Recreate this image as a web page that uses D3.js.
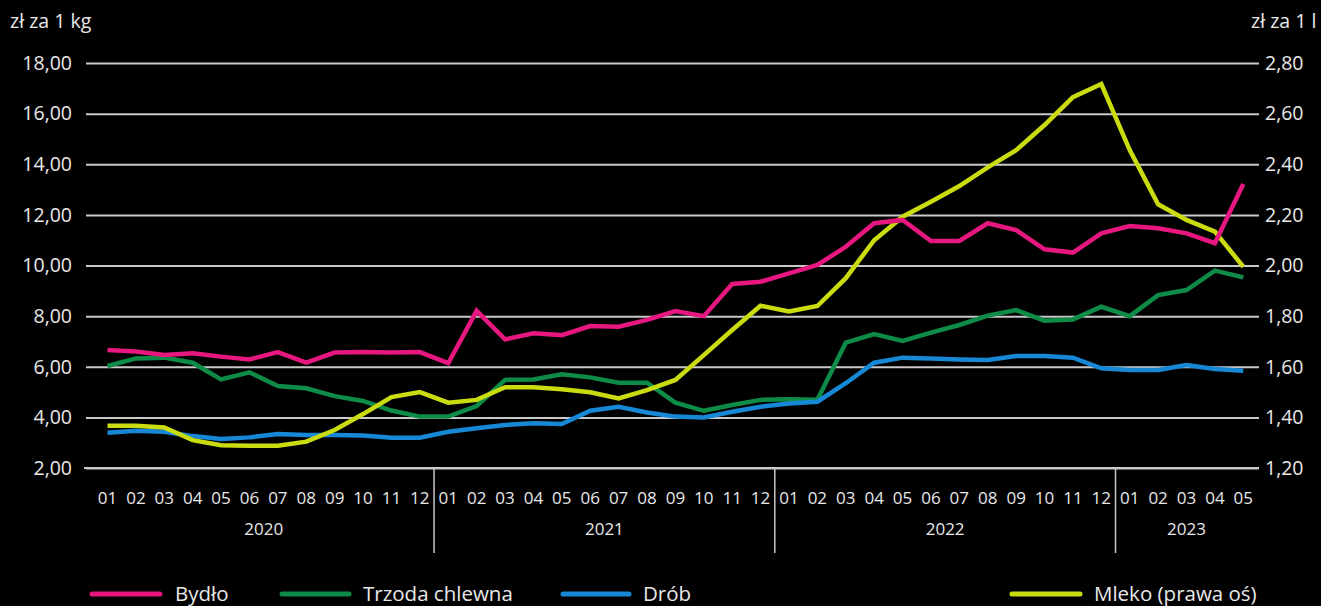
<!DOCTYPE html>
<html>
<head>
<meta charset="utf-8">
<script src="https://cdn.jsdelivr.net/npm/d3@7"></script>
<style>
  html, body { margin: 0; padding: 0; background: #000; }
  svg { display: block; }
  text { font-family: "Open Sans", "Noto Sans", sans-serif; fill: #e8e8e8; }
</style>
</head>
<body>
<svg id="chart" width="1321" height="606"></svg>
<script>
// ---- DATA ----
const periods = [
  "2020-01","2020-02","2020-03","2020-04","2020-05","2020-06","2020-07","2020-08","2020-09","2020-10","2020-11","2020-12",
  "2021-01","2021-02","2021-03","2021-04","2021-05","2021-06","2021-07","2021-08","2021-09","2021-10","2021-11","2021-12",
  "2022-01","2022-02","2022-03","2022-04","2022-05","2022-06","2022-07","2022-08","2022-09","2022-10","2022-11","2022-12",
  "2023-01","2023-02","2023-03","2023-04","2023-05"
];
const years = ["2020", "2021", "2022", "2023"];

const bydlo = [6.66,6.60,6.46,6.53,6.40,6.29,6.58,6.16,6.56,6.58,6.56,6.58,
               6.14,8.21,7.08,7.32,7.25,7.61,7.58,7.85,8.20,8.00,9.27,9.36,
               9.69,10.02,10.74,11.67,11.80,10.97,10.97,11.67,11.40,10.64,10.51,11.27,
               11.56,11.47,11.27,10.88,13.22];
const trzoda = [6.03,6.33,6.36,6.16,5.50,5.78,5.24,5.15,4.84,4.65,4.27,4.03,
                4.03,4.45,5.48,5.50,5.70,5.58,5.37,5.37,4.58,4.26,4.49,4.69,
                4.72,4.70,6.95,7.29,7.02,7.35,7.65,8.02,8.24,7.82,7.87,8.37,
                8.00,8.83,9.03,9.80,9.53];
const drob = [3.39,3.47,3.43,3.26,3.15,3.21,3.34,3.30,3.30,3.28,3.20,3.20,
              3.43,3.57,3.70,3.77,3.74,4.26,4.42,4.19,4.03,4.00,4.22,4.42,
              4.55,4.62,5.35,6.16,6.36,6.33,6.29,6.27,6.42,6.42,6.36,5.94,
              5.87,5.87,6.07,5.91,5.84];
const mleko = [1.367,1.367,1.360,1.310,1.290,1.288,1.288,1.304,1.350,1.413,1.480,1.500,
               1.458,1.469,1.519,1.519,1.511,1.499,1.475,1.508,1.548,1.646,1.745,1.841,
               1.818,1.840,1.950,2.100,2.193,2.252,2.314,2.388,2.456,2.555,2.665,2.717,
               2.456,2.242,2.180,2.134,1.995];

const leftTicks = [2,4,6,8,10,12,14,16,18];
const rightTicks = [1.2,1.4,1.6,1.8,2.0,2.2,2.4,2.6,2.8];

const seriesNames = ["Bydło", "Trzoda chlewna", "Drób", "Mleko (prawa oś)"];
const seriesColors = ["#e6177f", "#0e8c47", "#1788d6", "#cadc10"];

// ---- LAYOUT ----
const svg = d3.select("#chart");
const gridLeft = 86, gridRight = 1259;
const yTop = 63, yBottom = 468;

const x = d3.scaleBand().domain(periods).range([93.3, 1257.5]).padding(0);
const xc = p => x(p) + x.bandwidth() / 2;
const yL = d3.scaleLinear().domain([2, 18]).range([yBottom, yTop]);
const yR = d3.scaleLinear().domain([1.2, 2.8]).range([yBottom, yTop]);

const pl = d3.formatLocale({decimal: ",", thousands: " ", grouping: [3], currency: ["", " zł"]});
const fmt = pl.format(".2f");

// Left axis with gridlines
const gL = svg.append("g").attr("transform", `translate(${gridRight},0)`)
  .call(d3.axisLeft(yL).tickValues(leftTicks).tickSize(gridRight - gridLeft).tickPadding(14).tickFormat(fmt));
gL.select(".domain").remove();
gL.selectAll(".tick line").attr("stroke", "#c9c9c9").attr("stroke-width", 2);
gL.selectAll(".tick text").attr("fill", "#e8e8e8").style("font-size", "19.5px")
  .style("font-family", '"Open Sans", sans-serif');

// Right axis
const gR = svg.append("g").attr("transform", `translate(${gridRight},0)`)
  .call(d3.axisRight(yR).tickValues(rightTicks).tickSize(0).tickPadding(6).tickFormat(fmt));
gR.select(".domain").remove();
gR.selectAll(".tick text").attr("fill", "#e8e8e8").style("font-size", "19.5px")
  .style("font-family", '"Open Sans", sans-serif');

// Axis titles
svg.append("text").attr("x", 10).attr("y", 28).style("font-size", "19.5px").text("zł za 1 kg");
svg.append("text").attr("x", 1251).attr("y", 28).style("font-size", "19.5px").text("zł za 1 l");

// Bottom axis line
svg.append("line").attr("x1", 84).attr("x2", gridRight).attr("y1", yBottom).attr("y2", yBottom)
  .attr("stroke", "#c9c9c9").attr("stroke-width", 2);

// Month labels
svg.append("g").selectAll("text").data(periods).join("text")
  .attr("x", d => xc(d)).attr("y", 504)
  .attr("text-anchor", "middle").style("font-size", "17px")
  .text(d => d.slice(5));

// Year labels & separators
years.forEach((yr, i) => {
  const ps = periods.filter(p => p.startsWith(yr));
  const x0 = x(ps[0]), x1 = x(ps[ps.length - 1]) + x.bandwidth();
  svg.append("text").attr("x", (x0 + x1) / 2).attr("y", 535)
    .attr("text-anchor", "middle").style("font-size", "17px").text(yr);
  if (i > 0) {
    svg.append("line").attr("x1", x0).attr("x2", x0).attr("y1", yBottom).attr("y2", 553)
      .attr("stroke", "#c9c9c9").attr("stroke-width", 1.5);
  }
});

// Lines
const series = [
  {vals: bydlo, scale: yL, color: seriesColors[0]},
  {vals: trzoda, scale: yL, color: seriesColors[1]},
  {vals: drob, scale: yL, color: seriesColors[2]},
  {vals: mleko, scale: yR, color: seriesColors[3]}
];
const drawOrder = [1, 2, 3, 0];
drawOrder.forEach(k => {
  const s = series[k];
  const line = d3.line().x((d, i) => xc(periods[i])).y(d => s.scale(d));
  svg.append("path").datum(s.vals).attr("d", line)
    .attr("fill", "none").attr("stroke", s.color).attr("stroke-width", 4.5)
    .attr("stroke-linejoin", "miter").attr("stroke-linecap", "butt");
});

// Legend
const legendPos = [
  {x1: 92, x2: 160, tx: 175},
  {x1: 282, x2: 349, tx: 363},
  {x1: 563, x2: 629, tx: 643},
  {x1: 1012, x2: 1080, tx: 1094}
];
const ly = 594;
seriesNames.forEach((n, i) => {
  const p = legendPos[i];
  svg.append("line").attr("x1", p.x1).attr("x2", p.x2).attr("y1", ly).attr("y2", ly)
    .attr("stroke", seriesColors[i]).attr("stroke-width", 5).attr("stroke-linecap", "round");
  svg.append("text").attr("x", p.tx).attr("y", ly).attr("dy", "0.35em")
    .style("font-size", "20.5px").text(n);
});
</script>
</body>
</html>
